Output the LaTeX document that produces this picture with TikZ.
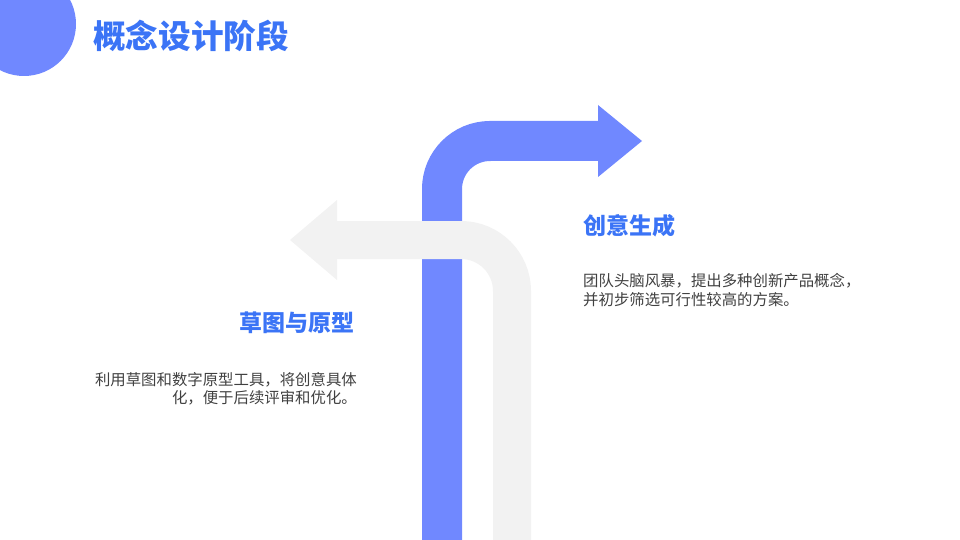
\documentclass[tikz,border=0pt]{standalone}
\usepackage{fontspec}
\setmainfont{Noto Sans CJK SC}
\definecolor{arrow blue}{HTML}{7088FF}
\definecolor{title blue}{HTML}{3B74F6}
\definecolor{arrow grey}{HTML}{F2F2F2}
\definecolor{body grey}{HTML}{404040}
\tikzset{
    heading/.style={text=title blue, font=\bfseries\fontsize{23}{28}\selectfont, inner sep=0pt},
    body/.style={text=body grey, font=\fontsize{15.4}{18.5}\selectfont, inner sep=0pt},
}

\begin{document}
\begin{tikzpicture}[x=1pt, y=-1pt]
        \useasboundingbox (0,0) rectangle (960,540);
        \fill[arrow blue] (24,24) circle[radius=52pt];
        \node[anchor=west, text=title blue, font=\bfseries\fontsize{32.6}{38}\selectfont, inner sep=0pt] (title) at (93,36) {概念设计阶段};
        % blue arrow, up then right
        \draw[arrow blue, line width=40pt, rounded corners=48pt] (442,550) -- (442,141) -- (599,141);
        \fill[arrow blue] (598,105) -- (642,141) -- (598,177) -- cycle;
        % grey arrow, up then left
        \draw[arrow grey, line width=38pt, rounded corners=51pt] (512,550) -- (512,240) -- (336,240);
        \fill[arrow grey] (337,200) -- (290,240) -- (337,280) -- cycle;
        \node[heading, anchor=west] (idea) at (583,226) {创意生成};
        \node[body, anchor=west, align=left] (idea text) at (583,290) {团队头脑风暴，提出多种创新产品概念，\\并初步筛选可行性较高的方案。};
        \node[heading, anchor=east] (sketch) at (355,323) {草图与原型};
        \node[body, anchor=east, align=right] (sketch text) at (357,389) {利用草图和数字原型工具，将创意具体\\化，便于后续评审和优化。};
    \end{tikzpicture}
\end{document}
